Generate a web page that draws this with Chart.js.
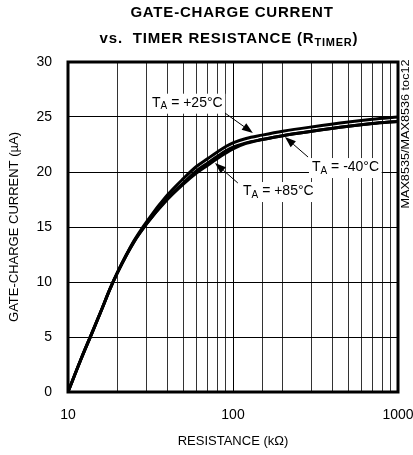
<!DOCTYPE html>
<html lang="en">
<head>
<meta charset="UTF-8">
<title>Gate-charge current vs timer resistance</title>
<script src="https://cdn.jsdelivr.net/npm/chart.js@4"></script>
<style>
  body { margin: 0; background: #fff; }
  #wrap { width: 413px; height: 455px; }
</style>
</head>
<body>
<div id="wrap"><canvas id="canvas"></canvas></div>
<script>
// timer resistance in kOhm
const resistance = [10, 12, 14, 16, 18, 20, 25, 30, 40, 50, 60, 70, 80, 90, 100, 120, 150, 200, 300, 500, 700, 1000];
// gate-charge current in uA, one list per temperature
const currentPlus25 = [0, 3.0, 5.4, 7.5, 9.4, 10.9, 13.7, 15.5, 17.9, 19.4, 20.5, 21.2, 21.8, 22.3, 22.65, 23.05, 23.35, 23.7, 24.1, 24.55, 24.8, 25.0];
const currentMinus40 = [0, 3.0, 5.4, 7.5, 9.4, 10.9, 13.6, 15.3, 17.6, 19.0, 20.1, 20.8, 21.4, 21.9, 22.25, 22.65, 22.95, 23.3, 23.7, 24.15, 24.4, 24.6];
const currentPlus85 = [0, 3.0, 5.4, 7.5, 9.4, 10.9, 13.6, 15.3, 17.5, 18.9, 19.9, 20.6, 21.2, 21.7, 22.1, 22.6, 22.95, 23.3, 23.7, 24.15, 24.4, 24.6];
const xTickLabels = [10, 100, 1000];
const yTicks = [0, 5, 10, 15, 20, 25, 30];

function toPoints(ys) {
    return resistance.map((r, i) => ({ x: r, y: ys[i] }));
}

// labels with arrows, anchored in data units (kOhm, uA)
const notes = [
    { rest: ' = +25°C', at: [32.3, 26.3], from: [89.4, 25.36], to: [132, 23.55] },
    { rest: ' = -40°C', at: [301, 20.45], from: [285, 21.36], to: [206.5, 23.18] },
    { rest: ' = +85°C', at: [115, 18.27], from: [107, 19.0], to: [77.8, 20.82] }
];

const FONT = '"Liberation Sans", Arial, sans-serif';

function drawTA(ctx, x, y, rest) {
    ctx.textBaseline = 'middle';
    ctx.textAlign = 'left';
    ctx.font = '14px ' + FONT;
    ctx.fillText('T', x, y);
    let w = ctx.measureText('T').width;
    ctx.font = '10px ' + FONT;
    ctx.fillText('A', x + w, y + 4);
    w += ctx.measureText('A').width;
    ctx.font = '14px ' + FONT;
    ctx.fillText(rest, x + w, y);
    return w + ctx.measureText(rest).width;
}

function arrow(ctx, x1, y1, x2, y2) {
    const a = Math.atan2(y2 - y1, x2 - x1);
    const len = 11, half = 4;
    ctx.beginPath();
    ctx.moveTo(x1, y1);
    ctx.lineTo(x2 - Math.cos(a) * len, y2 - Math.sin(a) * len);
    ctx.lineWidth = 1;
    ctx.stroke();
    ctx.beginPath();
    ctx.moveTo(x2, y2);
    ctx.lineTo(x2 - Math.cos(a) * len - Math.sin(a) * half, y2 - Math.sin(a) * len + Math.cos(a) * half);
    ctx.lineTo(x2 - Math.cos(a) * len + Math.sin(a) * half, y2 - Math.sin(a) * len - Math.cos(a) * half);
    ctx.closePath();
    ctx.fill();
}

const extras = {
    id: 'extras',
    afterDraw(chart) {
        const ctx = chart.ctx;
        const xs = chart.scales.x, ys = chart.scales.y;
        const area = chart.chartArea;
        ctx.save();
        ctx.fillStyle = '#000';
        ctx.strokeStyle = '#000';

        // frame
        ctx.lineWidth = 3;
        ctx.strokeRect(area.left, area.top, area.right - area.left, area.bottom - area.top);

        // annotations
        notes.forEach(n => {
            const px = xs.getPixelForValue(n.at[0]);
            const py = ys.getPixelForValue(n.at[1]);
            ctx.font = '14px ' + FONT;
            const w = ctx.measureText('TA' + n.rest).width;
            ctx.fillStyle = '#fff';
            ctx.fillRect(px - 3, py - 9, w + 4, 20);
            ctx.fillStyle = '#000';
            drawTA(ctx, px, py, n.rest);
            arrow(ctx, xs.getPixelForValue(n.from[0]), ys.getPixelForValue(n.from[1]),
                xs.getPixelForValue(n.to[0]), ys.getPixelForValue(n.to[1]));
        });

        // title
        ctx.textBaseline = 'middle';
        ctx.textAlign = 'left';
        ctx.letterSpacing = '0.8px';
        ctx.font = 'bold 15px ' + FONT;
        const t1 = 'GATE-CHARGE CURRENT';
        const w1 = ctx.measureText(t1).width;
        ctx.fillText(t1, 232 - w1 / 2, 13);
        const a = 'vs.  TIMER RESISTANCE (R', sub = 'TIMER', b = ')';
        const wa = ctx.measureText(a).width;
        ctx.font = 'bold 11px ' + FONT;
        const ws = ctx.measureText(sub).width;
        ctx.font = 'bold 15px ' + FONT;
        const wb = ctx.measureText(b).width;
        let x0 = 229 - (wa + ws + wb) / 2;
        ctx.fillText(a, x0, 39);
        ctx.font = 'bold 11px ' + FONT;
        ctx.fillText(sub, x0 + wa, 43);
        ctx.font = 'bold 15px ' + FONT;
        ctx.fillText(b, x0 + wa + ws, 39);
        ctx.letterSpacing = '0px';

        // side code
        ctx.translate(406, 134);
        ctx.rotate(-Math.PI / 2);
        ctx.scale(1.15, 1);
        ctx.font = '11px ' + FONT;
        ctx.textAlign = 'center';
        ctx.fillText('MAX8535/MAX8536 toc12', 0, 0);
        ctx.restore();
    }
};

const lineStyle = {
    showLine: true,
    borderColor: '#000',
    backgroundColor: '#000',
    borderWidth: 3,
    pointRadius: 0,
    cubicInterpolationMode: 'monotone',
    fill: false
};

let ctx = document.getElementById('canvas').getContext('2d');
let chart = new Chart(ctx, {
    type: 'scatter',
    data: {
        datasets: [
            Object.assign({ label: 'TA = +25°C', data: toPoints(currentPlus25) }, lineStyle),
            Object.assign({ label: 'TA = -40°C', data: toPoints(currentMinus40) }, lineStyle),
            Object.assign({ label: 'TA = +85°C', data: toPoints(currentPlus85) }, lineStyle)
        ]
    },
    options: {
        responsive: true,
        maintainAspectRatio: false,
        animation: false,
        layout: { padding: { top: 62, right: 15, left: 0, bottom: 0 } },
        plugins: {
            legend: { display: false },
            tooltip: { enabled: false }
        },
        scales: {
            x: {
                type: 'logarithmic',
                min: 10,
                max: 1000,
                afterFit: s => { s.height = 63; s.paddingLeft = 0; s.paddingRight = 0; },
                border: { display: false },
                grid: {
                    drawTicks: false,
                    lineWidth: 1,
                    color: c => (c.tick && xTickLabels.includes(c.tick.value)) ? '#000' : '#333'
                },
                ticks: {
                    autoSkip: false,
                    maxRotation: 0,
                    padding: 15,
                    color: '#000',
                    font: { family: FONT, size: 14 },
                    callback: v => xTickLabels.includes(v) ? String(v) : ''
                },
                title: {
                    display: true,
                    text: 'RESISTANCE (kΩ)',
                    color: '#000',
                    font: { family: FONT, size: 13 },
                    padding: { top: 0, bottom: 6 }
                }
            },
            y: {
                min: 0,
                max: 30,
                afterFit: s => { s.width = 68; s.paddingTop = 0; s.paddingBottom = 0; },
                afterBuildTicks: s => { s.ticks = yTicks.map(v => ({ value: v })); },
                border: { display: false },
                grid: { drawTicks: false, lineWidth: 1, color: '#000' },
                ticks: {
                    padding: 16,
                    color: '#000',
                    font: { family: FONT, size: 14 }
                },
                title: {
                    display: true,
                    text: 'GATE-CHARGE CURRENT (µA)',
                    color: '#000',
                    font: { family: FONT, size: 13 },
                    padding: { top: 7, bottom: 0 }
                }
            }
        }
    },
    plugins: [extras]
});
</script>
</body>
</html>
